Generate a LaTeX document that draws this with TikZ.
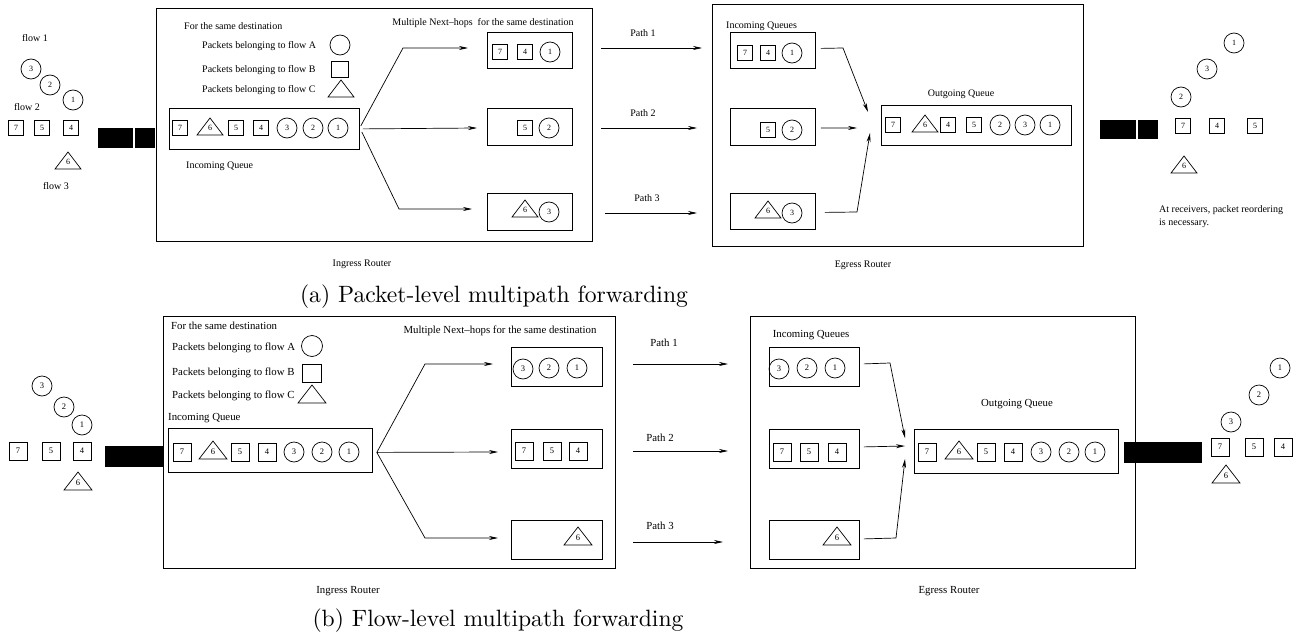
\documentclass[tikz,border=0pt]{standalone}
\usepackage{fontspec}
\newfontfamily\dfont{Liberation Serif}
\newfontfamily\capfont{lmroman10-regular.otf}
\usetikzlibrary{arrows.meta,positioning,calc}
\newcommand{\numfont}{\dfont\fontsize{8}{9}\selectfont}
\newcommand{\txtfont}{\dfont\fontsize{10}{12}\selectfont}
\newcommand{\trhw}{13}
\newcommand{\trh}{17}
\tikzstyle{rbox}=[draw,line width=0.9pt,inner sep=0pt]
\tikzstyle{qbox}=[draw,line width=0.8pt,inner sep=0pt]
\tikzstyle{pline}=[line width=0.7pt]
\tikzstyle{pcirc}=[draw,circle,line width=0.7pt,minimum size=20pt,inner sep=0pt,font=\numfont]
\tikzstyle{psq}=[draw,line width=0.7pt,minimum size=15pt,inner sep=0pt,font=\numfont]
\tikzstyle{ptri}=[inner sep=0pt,font=\numfont]
\tikzstyle{lbl}=[inner sep=0pt,font=\txtfont]
\tikzstyle{link}=[fill=black,inner sep=0pt,anchor=north west]
\tikzstyle{fwd}=[line width=0.7pt,-{Stealth[length=9pt,width=4pt]}]
\tikzstyle{capt}=[inner sep=0pt,font=\capfont\fontsize{23.6}{28}\selectfont]
\newcommand{\pktc}[3]{\node[pcirc] (#1) at (#2) {#3};}
\newcommand{\pkts}[3]{\node[psq] (#1) at (#2) {#3};}
\newcommand{\pktt}[3]{\node[ptri] (#1) at (#2) {#3};
  \draw[pline] (#1.center) ++(-\trhw,7) -- ++(2*\trhw,0) -- ++(-\trhw,-\trh) -- cycle;}

\begin{document}
\begin{tikzpicture}[x=1pt,y=-1pt]
\useasboundingbox (0,0) rectangle (1299,637);

% (a) packet-level
\node[lbl] (aF1) at (35,38) {flow 1};
\pktc{aC3}{31,69}{3}
\pktc{aC2}{50,85}{2}
\pktc{aC1}{73,100}{1}
\node[lbl] (aF2) at (27,107) {flow 2};
\pkts{aS7}{16,128}{7}
\pkts{aS5}{42,128}{5}
\pkts{aS4}{71,128}{4}
\pktt{aT6}{68,162}{6}
\node[lbl] (aF3) at (56,186) {flow 3};
\node[link,minimum width=35pt,minimum height=20pt] (aL1) at (98,128) {};
\node[link,minimum width=20pt,minimum height=20pt] (aL2) at (135,128) {};

\node[rbox,anchor=north west,minimum width=436pt,minimum height=233pt] (aIng) at (156,8) {};
\node[lbl,anchor=west] (aDst) at (184,26) {For the same destination};
\node[lbl,anchor=west] (aKA) at (202,46) {Packets belonging to flow A};
\node[lbl,anchor=west] (aKB) at (202,70) {Packets belonging to flow B};
\node[lbl,anchor=west] (aKC) at (202,90) {Packets belonging to flow C};
\node[pcirc] (aKc) at (340,45) {};
\node[psq,minimum width=17pt,minimum height=16pt] (aKs) at (340,69) {};
\pktt{aKt}{341,90}{}

\node[qbox,anchor=north west,minimum width=190pt,minimum height=41pt] (aIQ) at (169,108) {};
\pkts{aQ7}{180,128}{7}
\pktt{aQ6}{210,128}{6}
\pkts{aQ5}{236,128}{5}
\pkts{aQ4}{261,128}{4}
\pktc{aQ3}{287,128}{3}
\pktc{aQ2}{313,128}{2}
\pktc{aQ1}{338,128}{1}
\node[lbl,anchor=west] (aIQl) at (186,166) {Incoming Queue};
\node[lbl] (aIngl) at (362,264) {Ingress Router};

\node[lbl] (aNHl) at (483,23) {Multiple Next–hops\ \ for the same destination};
\node[qbox,anchor=north west,minimum width=85pt,minimum height=36pt] (aNH1) at (487,32) {};
\node[qbox,anchor=north west,minimum width=85pt,minimum height=37pt] (aNH2) at (487,108) {};
\node[qbox,anchor=north west,minimum width=85pt,minimum height=37pt] (aNH3) at (487,193) {};
\pkts{aN7}{500,52}{7}
\pkts{aN4}{525,52}{4}
\pktc{aN1}{550,52}{1}
\pkts{aN5}{525,128}{5}
\pktc{aN2}{549,128}{2}
\pktt{aN6}{525,210}{6}
\pktc{aN3}{549,212}{3}

\coordinate (aU) at (403,48);
\coordinate (aUe) at (468,48);
\coordinate (aMe) at (477,128);
\coordinate (aD) at (399,209);
\coordinate (aDe) at (472,209);
\draw[fwd] ([xshift=1pt,yshift=3pt]aIQ.east) -- (aU) -- (aUe);
\draw[fwd] ([xshift=3pt]aIQ.east) -- (aMe);
\draw[fwd] ([xshift=2pt,yshift=-3pt]aIQ.east) -- (aD) -- (aDe);

\node[lbl] (aP1) at (643,33) {Path 1};
\node[lbl] (aP2) at (643,113) {Path 2};
\node[lbl] (aP3) at (647,198) {Path 3};
\coordinate (aP1s) at (601,48);
\coordinate (aP1e) at (702,48);
\coordinate (aP2s) at (601,128);
\coordinate (aP2e) at (697,128);
\coordinate (aP3s) at (605,213);
\coordinate (aP3e) at (697,213);
\draw[fwd] (aP1s) -- (aP1e);
\draw[fwd] (aP2s) -- (aP2e);
\draw[fwd] (aP3s) -- (aP3e);

\node[rbox,anchor=north west,minimum width=371pt,minimum height=242pt] (aEg) at (712,4) {};
\node[lbl,anchor=west] (aEQl) at (726,26) {Incoming Queues};
\node[qbox,anchor=north west,minimum width=85pt,minimum height=36pt] (aEQ1) at (730,32) {};
\node[qbox,anchor=north west,minimum width=85pt,minimum height=37pt] (aEQ2) at (730,108) {};
\node[qbox,anchor=north west,minimum width=85pt,minimum height=36pt] (aEQ3) at (730,193) {};
\pkts{aE7}{745,53}{7}
\pkts{aE4}{768,53}{4}
\pktc{aE1}{792,53}{1}
\pkts{aE5}{768,130}{5}
\pktc{aE2}{792,130}{2}
\pktt{aE6}{768,211}{6}
\pktc{aE3}{792,213}{3}

\coordinate (aE1b) at (843,48);
\coordinate (aE1e) at (868,112);
\coordinate (aE2e) at (857,128);
\coordinate (aE3b) at (857,212);
\coordinate (aE3e) at (870,133);
\draw[fwd] ([xshift=5pt,yshift=2pt]aEQ1.east) -- (aE1b) -- (aE1e);
\draw[fwd] ([xshift=5pt,yshift=-1pt]aEQ2.east) -- (aE2e);
\draw[fwd] ([xshift=9pt,yshift=-1pt]aEQ3.east) -- (aE3b) -- (aE3e);

\node[lbl] (aOQl) at (961,94) {Outgoing Queue};
\node[qbox,anchor=north west,minimum width=190pt,minimum height=40pt] (aOQ) at (881,105) {};
\pkts{aO7}{893,125}{7}
\pktt{aO6}{925,125}{6}
\pkts{aO4}{948,125}{4}
\pkts{aO5}{974,125}{5}
\pktc{aO2}{1000,125}{2}
\pktc{aO3}{1025,125}{3}
\pktc{aO1}{1050,125}{1}
\node[lbl] (aEgl) at (863,265) {Egress Router};

\node[link,minimum width=36pt,minimum height=19pt] (aR1) at (1100,120) {};
\node[link,minimum width=20pt,minimum height=19pt] (aR2) at (1138,120) {};
\pktc{aRc1}{1234,43}{1}
\pktc{aRc3}{1207,69}{3}
\pktc{aRc2}{1181,97}{2}
\pkts{aRs7}{1183,126}{7}
\pkts{aRs4}{1217,126}{4}
\pkts{aRs5}{1255,126}{5}
\pktt{aRt6}{1184,166}{6}
\node[lbl,anchor=west,align=left,font=\dfont\fontsize{10}{13}\selectfont] (aNote) at (1159,216.5) {At receivers, packet reordering\\is necessary.};

\node[capt] (aCap) at (494,297) {(a) Packet-level multipath forwarding};

% (b) flow-level
\begin{scope}[psq/.append style={minimum size=18pt}]
\renewcommand{\numfont}{\dfont\fontsize{8.5}{9}\selectfont}
\renewcommand{\txtfont}{\dfont\fontsize{10.8}{13}\selectfont}
\renewcommand{\trhw}{14}
\renewcommand{\trh}{18}
\pktc{bC3}{42,386}{3}
\pktc{bC2}{64,407}{2}
\pktc{bC1}{82,425}{1}
\pkts{bS7}{18,451}{7}
\pkts{bS5}{51,451}{5}
\pkts{bS4}{82,451}{4}
\pktt{bT6}{78,483}{6}
\node[link,minimum width=58pt,minimum height=21pt] (bL) at (105,446) {};

\node[rbox,anchor=north west,minimum width=452pt,minimum height=252pt] (bIng) at (163,316) {};
\node[lbl,anchor=west] (bDst) at (171,326) {For the same destination};
\node[lbl,anchor=west] (bKA) at (172,348) {Packets belonging to flow A};
\node[lbl,anchor=west] (bKB) at (172,373) {Packets belonging to flow B};
\node[lbl,anchor=west] (bKC) at (172,396) {Packets belonging to flow C};
\node[pcirc,minimum size=21pt] (bKc) at (312,346) {};
\node[psq,minimum width=19pt,minimum height=18pt] (bKs) at (312,373) {};
\pktt{bKt}{312,396}{}

\node[lbl,anchor=west] (bIQl) at (168,418) {Incoming Queue};
\node[qbox,anchor=north west,minimum width=204pt,minimum height=44pt] (bIQ) at (168,428) {};
\pkts{bQ7}{182,452}{7}
\pktt{bQ6}{213,452}{6}
\pkts{bQ5}{240,452}{5}
\pkts{bQ4}{267,452}{4}
\pktc{bQ3}{294,452}{3}
\pktc{bQ2}{322,452}{2}
\pktc{bQ1}{349,452}{1}
\node[lbl] (bIngl) at (348,591) {Ingress Router};

\node[lbl] (bNHl) at (500,331) {Multiple Next–hops for the same destination};
\node[qbox,anchor=north west,minimum width=91pt,minimum height=39pt] (bNH1) at (511,347) {};
\node[qbox,anchor=north west,minimum width=91pt,minimum height=39pt] (bNH2) at (511,429) {};
\node[qbox,anchor=north west,minimum width=91pt,minimum height=39pt] (bNH3) at (511,520) {};
\pktc{bN3}{523,369}{3}
\pktc{bN2}{549,368}{2}
\pktc{bN1}{577,368}{1}
\pkts{bN7}{524,451}{7}
\pkts{bN5}{552,451}{5}
\pkts{bN4}{578,451}{4}
\pktt{bN6}{578,538}{6}

\coordinate (bU) at (425,364);
\coordinate (bUe) at (493,364);
\coordinate (bMe) at (498,452);
\coordinate (bD) at (425,538);
\coordinate (bDe) at (498,538);
\draw[fwd] ([xshift=4pt,yshift=-2pt]bIQ.east) -- (bU) -- (bUe);
\draw[fwd] ([xshift=4pt,yshift=-2pt]bIQ.east) -- (bMe);
\draw[fwd] ([xshift=4pt,yshift=-2pt]bIQ.east) -- (bD) -- (bDe);

\node[lbl] (bP1) at (664,343) {Path 1};
\node[lbl] (bP2) at (660,438) {Path 2};
\node[lbl] (bP3) at (660,526) {Path 3};
\coordinate (bP1s) at (633,364);
\coordinate (bP1e) at (728,364);
\coordinate (bP2s) at (633,451);
\coordinate (bP2e) at (728,451);
\coordinate (bP3s) at (633,542);
\coordinate (bP3e) at (723,542);
\draw[fwd] (bP1s) -- (bP1e);
\draw[fwd] (bP2s) -- (bP2e);
\draw[fwd] (bP3s) -- (bP3e);

\node[rbox,anchor=north west,minimum width=385pt,minimum height=252pt] (bEg) at (750,316) {};
\node[lbl] (bEQl) at (811,335) {Incoming Queues};
\node[qbox,anchor=north west,minimum width=90pt,minimum height=39pt] (bEQ1) at (769,347) {};
\node[qbox,anchor=north west,minimum width=90pt,minimum height=39pt] (bEQ2) at (769,429) {};
\node[qbox,anchor=north west,minimum width=90pt,minimum height=39pt] (bEQ3) at (769,520) {};
\pktc{bE3}{779,369}{3}
\pktc{bE2}{807,368}{2}
\pktc{bE1}{835,368}{1}
\pkts{bE7}{782,452}{7}
\pkts{bE5}{809,452}{5}
\pkts{bE4}{837,452}{4}
\pktt{bE6}{837,538}{6}

\coordinate (bE1b) at (890,363);
\coordinate (bE1e) at (905,438);
\coordinate (bE2e) at (905,446);
\coordinate (bE3b) at (896,538);
\coordinate (bE3e) at (905,459);
\draw[fwd] ([xshift=4pt,yshift=3pt]bEQ1.east) -- (bE1b) -- (bE1e);
\draw[fwd] ([xshift=4pt,yshift=2pt]bEQ2.east) -- (bE2e);
\draw[fwd] ([xshift=4pt,yshift=1pt]bEQ3.east) -- (bE3b) -- (bE3e);

\node[lbl] (bOQl) at (1017,404) {Outgoing Queue};
\node[qbox,anchor=north west,minimum width=204pt,minimum height=44pt] (bOQ) at (914,429) {};
\pkts{bO7}{927,452}{7}
\pktt{bO6}{959,452}{6}
\pkts{bO5}{986,452}{5}
\pkts{bO4}{1013,452}{4}
\pktc{bO3}{1041,452}{3}
\pktc{bO2}{1069,452}{2}
\pktc{bO1}{1095,452}{1}
\node[lbl] (bEgl) at (949,591) {Egress Router};

\node[link,minimum width=78pt,minimum height=21pt] (bR) at (1124,442) {};
\pktc{bRc1}{1280,368}{1}
\pktc{bRc2}{1259,395}{2}
\pktc{bRc3}{1231,422}{3}
\pkts{bRs7}{1220,447}{7}
\pkts{bRs5}{1254,447}{5}
\pkts{bRs4}{1283,447}{4}
\pktt{bRt6}{1226,476}{6}
\end{scope}

\node[capt] (bCap) at (498,621) {(b) Flow-level multipath forwarding};
\end{tikzpicture}
\end{document}
